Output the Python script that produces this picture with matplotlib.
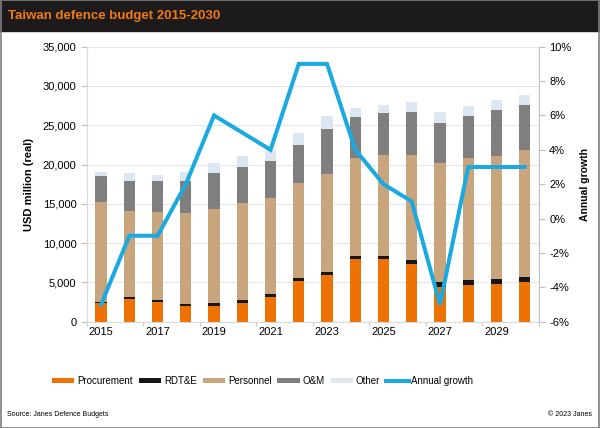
import numpy as np
import matplotlib.pyplot as plt
from matplotlib.ticker import FuncFormatter, FixedLocator
from matplotlib.patches import Rectangle

plt.rcParams['font.family'] = ['Liberation Sans', 'DejaVu Sans']

years = list(range(2015, 2031))
procurement = [2420, 2880, 2460, 2000, 1950, 2420, 3180, 5180, 5940, 8020, 7930, 7340, 4450, 4670, 4800, 5000]
rdte = [130, 220, 300, 300, 450, 380, 340, 420, 380, 380, 430, 560, 550, 630, 630, 640]
personnel = [12650, 11000, 11140, 11500, 11900, 12350, 12220, 12100, 12480, 12400, 12840, 13300, 15150, 15500, 15670, 16160]
om = [3400, 3800, 4000, 4100, 4600, 4550, 4660, 4800, 5700, 5300, 5300, 5500, 5150, 5400, 5800, 5800]
other = [400, 1000, 800, 1100, 1300, 1400, 1400, 1500, 1700, 1050, 1100, 1300, 1400, 1250, 1300, 1300]
growth = [-5, -1, -1, 2, 6, 5, 4, 9, 9, 4, 2, 1, -5, 3, 3, 3]

series = [
    ('Procurement', procurement, '#EE7203'),
    ('RDT&E', rdte, '#161616'),
    ('Personnel', personnel, '#C9A57E'),
    ('O&M', om, '#7F7F7F'),
    ('Other', other, '#DDE7F1'),
]

fig = plt.figure(figsize=(6.0, 4.28), dpi=100)
ax = fig.add_axes([0.145, 0.2484, 0.753, 0.6425])

bottom = np.zeros(len(years))
handles = []
for name, vals, col in series:
    b = ax.bar(years, vals, width=0.4, bottom=bottom, color=col, label=name, zorder=2)
    handles.append(b)
    bottom += np.array(vals)

ax.set_xlim(2014.5, 2030.5)
ax.set_ylim(0, 35000)
ax.set_yticks(np.arange(0, 35001, 5000))
ax.yaxis.set_major_formatter(FuncFormatter(lambda v, p: f'{int(v):,}'))
ax.set_xticks(years[::2])
ax.xaxis.set_minor_locator(FixedLocator(np.arange(2014.5, 2031, 2)))
ax.tick_params(axis='x', which='major', length=0, labelsize=8, pad=4)
ax.tick_params(axis='x', which='minor', length=3, color='#BFBFBF')
ax.tick_params(axis='y', length=4, color='#BFBFBF', labelsize=8)
ax.grid(axis='y', color='#E6E6E6', linewidth=0.8, zorder=0)
ax.set_axisbelow(True)
for s in ['top', 'right']:
    ax.spines[s].set_visible(False)
ax.spines['left'].set_color('#D9D9D9')
ax.spines['bottom'].set_color('#D9D9D9')
ax.set_ylabel('USD million (real)', fontsize=8, fontweight='bold', labelpad=6)

ax2 = ax.twinx()
ln, = ax2.plot(years, growth, color='#1AA9E0', linewidth=2.9, label='Annual growth', zorder=3,
               solid_joinstyle='miter')
ax2.set_ylim(-6, 10)
ax2.set_yticks(np.arange(-6, 11, 2))
ax2.yaxis.set_major_formatter(FuncFormatter(lambda v, p: f'{int(v)}%'))
ax2.tick_params(axis='y', length=4, color='#BFBFBF', labelsize=8)
for s in ['top', 'left', 'bottom']:
    ax2.spines[s].set_visible(False)
ax2.spines['right'].set_color('#BFBFBF')
ax2.set_ylabel('Annual growth', fontsize=7.5, fontweight='bold', labelpad=6)

fig.legend(handles + [ln], [h.get_label() for h in handles] + ['Annual growth'],
           loc='center', bbox_to_anchor=(0.438, 0.11), ncol=6, frameon=False,
           fontsize=7, handlelength=2.3, handleheight=0.4, columnspacing=0.6,
           handletextpad=0.3)

# title bar and frame
fig.patches.append(Rectangle((0, 0.927), 1, 0.073, transform=fig.transFigure,
                             color='#1C1A1B', zorder=0))
fig.patches.append(Rectangle((0.001, 0.001), 0.998, 0.998, transform=fig.transFigure,
                             fill=False, edgecolor='#7F7F7F', linewidth=1.2, zorder=5))
fig.text(0.013, 0.962, 'Taiwan defence budget 2015-2030', color='#EE7A12',
         fontsize=9.5, fontweight='bold', va='center', ha='left')
fig.text(0.012, 0.031, 'Source: Janes Defence Budgets', fontsize=5, va='center', ha='left')
fig.text(0.987, 0.031, '\u00a9 2023 Janes', fontsize=5, va='center', ha='right')

fig.savefig('out.png', dpi=100)
